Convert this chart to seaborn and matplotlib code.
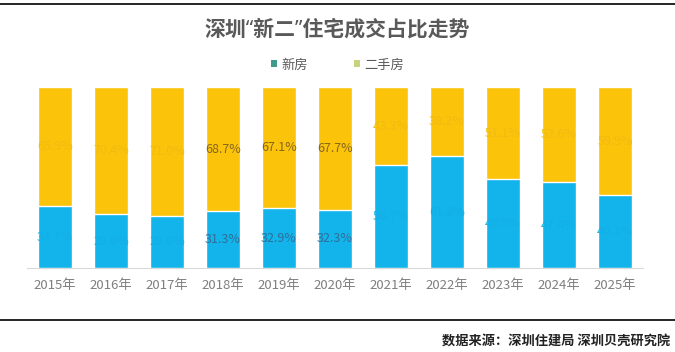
import pandas as pd
import seaborn as sns
import matplotlib.pyplot as plt
from matplotlib.patches import Patch
from matplotlib.lines import Line2D

years = ["2015年", "2016年", "2017年", "2018年", "2019年", "2020年",
         "2021年", "2022年", "2023年", "2024年", "2025年"]
new_share = [34.1, 29.6, 29.0, 31.3, 32.9, 32.3, 56.7, 61.8, 48.9, 47.4, 40.1]
second_share = [round(100 - v, 1) for v in new_share]
# labels that survived clearly in the picture
clear_labels = ["2018年", "2019年", "2020年"]

df = pd.DataFrame({"year": years, "new": new_share, "second": second_share})
df["total"] = df["new"] + df["second"]

blue = "#12b4eb"
yellow = "#fcc30b"

sns.set_theme(style="white")
plt.rcParams["font.family"] = ["Noto Sans CJK SC", "DejaVu Sans"]

fig = plt.figure(figsize=(6.75, 3.52), dpi=100)
ax = fig.add_axes([27 / 675, 84 / 352, 616 / 675, 181 / 352])

sns.barplot(data=df, x="year", y="total", color=yellow, width=0.6,
            saturation=1, ax=ax)
sns.barplot(data=df, x="year", y="new", color=blue, width=0.6,
            saturation=1, ax=ax)

for i, row in df.iterrows():
    clear = row["year"] in clear_labels
    ax.text(i, row["new"] + row["second"] / 2, f"{row['second']:.1f}%",
            ha="center", va="center", fontsize=9,
            color="#86661c" if clear else "#f0bc10")
    ax.text(i, row["new"] / 2, f"{row['new']:.1f}%",
            ha="center", va="center", fontsize=9,
            color="#2f6f96" if clear else "#14afe5")

ax.set_xlim(-0.5, len(years) - 0.5)
ax.set_ylim(0, 100)
ax.set_xlabel("")
ax.set_ylabel("")
ax.set_yticks([])
for s in ["top", "right", "left"]:
    ax.spines[s].set_visible(False)
ax.spines["bottom"].set_color("#d9d9d9")
ax.spines["bottom"].set_linewidth(0.8)
ax.tick_params(axis="x", length=0, pad=8, labelsize=9.5, labelcolor="#7f7f7f")

fig.text(0.5, 1 - 30 / 352, "深圳“新二”住宅成交占比走势",
         ha="center", va="center", fontsize=15, fontweight="bold",
         color="#595959", family=["Noto Sans", "Noto Sans CJK SC"])

handles = [Patch(facecolor="#3f9a8c", edgecolor="none"),
           Patch(facecolor="#c9d27c", edgecolor="none")]
fig.legend(handles, ["新房", "二手房"], loc="center",
           bbox_to_anchor=(0.5, 1 - 65 / 352), ncol=2, frameon=False,
           fontsize=9.5, labelcolor="#595959", handlelength=0.45,
           handleheight=0.45, handletextpad=0.3, columnspacing=3.5)

fig.add_artist(Line2D([0, 1], [1 - 4 / 352, 1 - 4 / 352], color="black",
                      linewidth=1.2, transform=fig.transFigure))
fig.add_artist(Line2D([0, 1], [1 - 320 / 352, 1 - 320 / 352], color="black",
                      linewidth=1.2, transform=fig.transFigure))

fig.text(670 / 675, 1 - 342 / 352, "数据来源：深圳住建局 深圳贝壳研究院",
         ha="right", va="center", fontsize=9.5, fontweight="bold",
         color="#222222")

fig.savefig("out.png", dpi=100)
